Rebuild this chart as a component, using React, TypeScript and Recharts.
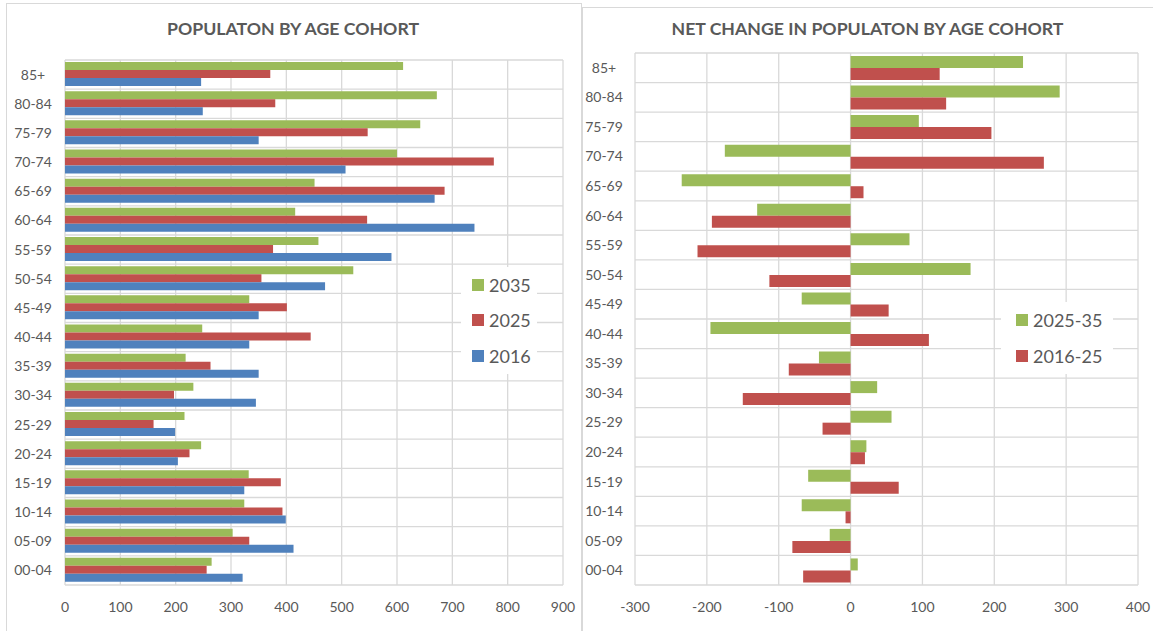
import { BarChart, Bar, XAxis, YAxis, CartesianGrid, Legend } from 'recharts';

const cohorts = ['85+', '80-84', '75-79', '70-74', '65-69', '60-64', '55-59', '50-54', '45-49', '40-44', '35-39', '30-34', '25-29', '20-24', '15-19', '10-14', '05-09', '00-04'];
const pop2035 = [611, 672, 642, 600, 451, 416, 458, 521, 333, 248, 218, 232, 216, 246, 332, 324, 303, 265];
const pop2025 = [371, 380, 547, 775, 686, 546, 376, 355, 401, 444, 263, 197, 160, 225, 390, 393, 333, 256];
const pop2016 = [246, 249, 350, 507, 668, 740, 590, 470, 350, 333, 350, 345, 199, 204, 324, 399, 413, 321];
const change2535 = [240, 291, 95, -175, -235, -130, 82, 167, -68, -195, -44, 37, 57, 22, -59, -68, -29, 10];
const change1625 = [124, 133, 196, 269, 18, -193, -213, -113, 53, 109, -86, -150, -39, 20, 67, -7, -81, -66];
const popTicks = [0, 100, 200, 300, 400, 500, 600, 700, 800, 900];
const changeTicks = [-300, -200, -100, 0, 100, 200, 300, 400];

const popData = cohorts.map((cohort, i) => ({ cohort, y2035: pop2035[i], y2025: pop2025[i], y2016: pop2016[i] }));
const changeData = cohorts.map((cohort, i) => ({ cohort, c2535: change2535[i], c1625: change1625[i] }));

const GREEN = '#9BBB59';
const RED = '#C0504D';
const BLUE = '#4F81BD';
const TEXT = '#595959';
const GRID = '#d9d9d9';

const CohortTick = ({ x, y, payload, shift }: any) => (
  <text x={x - shift} y={y} dy={5} textAnchor='middle' fill={TEXT} fontSize={14}>
    {payload.value}
  </text>
);

// excel draws the horizontal lines between the categories, not through them
const rowLines = ({ offset }: any) =>
  Array.from({ length: cohorts.length + 1 }, (_, i) => offset.top + (i * offset.height) / cohorts.length);

// vertical layout hands the legend items over bottom-first, flip them back
const makeLegend = (rowHeight: number, padLeft: number) => (props: any) => (
  <div style={{ background: '#fff', paddingLeft: padLeft }}>
    {[...props.payload].reverse().map((p: any) => (
      <div key={p.value} style={{ display: 'flex', alignItems: 'center', height: rowHeight }}>
        <span style={{ width: 12, height: 12, background: p.color, marginRight: 5 }} />
        <span style={{ color: TEXT, fontSize: 18 }}>{p.value}</span>
      </div>
    ))}
  </div>
);

const titleStyle = {
  position: 'absolute' as const,
  top: 18,
  textAlign: 'center' as const,
  fontWeight: 700,
  fontSize: 17.7,
  color: TEXT
};

export default function App() {
  return (
    <div style={{ position: 'absolute', left: 0, top: 0, width: 1153, height: 631, overflow: 'hidden', background: '#fff', fontFamily: 'Lato, sans-serif' }}>
      <div style={{ position: 'absolute', left: 6, top: 3, width: 574, height: 640, border: `1px solid ${GRID}` }} />
      <div style={{ position: 'absolute', left: 582, top: 7, width: 575, height: 640, border: `1px solid ${GRID}` }} />

      <div style={{ ...titleStyle, left: 6, width: 574 }}>POPULATON BY AGE COHORT</div>
      <div style={{ ...titleStyle, left: 582, width: 571 }}>NET CHANGE IN POPULATON BY AGE COHORT</div>

      <div style={{ position: 'absolute', left: 0, top: 0 }}>
        <BarChart width={580} height={631} data={popData} layout='vertical'
          margin={{ top: 60, right: 17, bottom: 16, left: 15 }} barCategoryGap={2} barGap={0}>
          <CartesianGrid stroke={GRID} strokeWidth={1.3} horizontalCoordinatesGenerator={rowLines} />
          <XAxis type='number' domain={[0, 900]} ticks={popTicks} height={30}
            axisLine={false} tickLine={false} tickSize={0} tickMargin={17}
            tick={{ fill: TEXT, fontSize: 14 }} />
          <YAxis type='category' dataKey='cohort' width={50} axisLine={false} tickLine={false}
            tickSize={0} tickMargin={0} interval={0} tick={<CohortTick shift={32} />} />
          <Legend layout='horizontal' align='center' verticalAlign='middle'
            wrapperStyle={{ left: 461, top: 267, width: 76 }} content={makeLegend(35.5, 11)} />
          <Bar dataKey='y2035' name='2035' fill={GREEN} isAnimationActive={false} />
          <Bar dataKey='y2025' name='2025' fill={RED} isAnimationActive={false} />
          <Bar dataKey='y2016' name='2016' fill={BLUE} isAnimationActive={false} />
        </BarChart>
      </div>

      <div style={{ position: 'absolute', left: 582, top: 0 }}>
        <BarChart width={571} height={631} data={changeData} layout='vertical'
          margin={{ top: 53, right: 15, bottom: 16, left: 8 }} barCategoryGap={3} barGap={0}>
          <CartesianGrid stroke={GRID} strokeWidth={1.3} horizontalCoordinatesGenerator={rowLines} />
          <XAxis type='number' domain={[-300, 400]} ticks={changeTicks} height={30}
            axisLine={false} tickLine={false} tickSize={0} tickMargin={17}
            tick={{ fill: TEXT, fontSize: 14 }} />
          <YAxis type='category' dataKey='cohort' width={45} axisLine={false} tickLine={false}
            tickSize={0} tickMargin={0} interval={0} tick={<CohortTick shift={31} />} />
          <Legend layout='horizontal' align='center' verticalAlign='middle'
            wrapperStyle={{ left: 419, top: 302, width: 112 }} content={makeLegend(36, 15)} />
          <Bar dataKey='c2535' name='2025-35' fill={GREEN} isAnimationActive={false} />
          <Bar dataKey='c1625' name='2016-25' fill={RED} isAnimationActive={false} />
        </BarChart>
      </div>
    </div>
  );
}
